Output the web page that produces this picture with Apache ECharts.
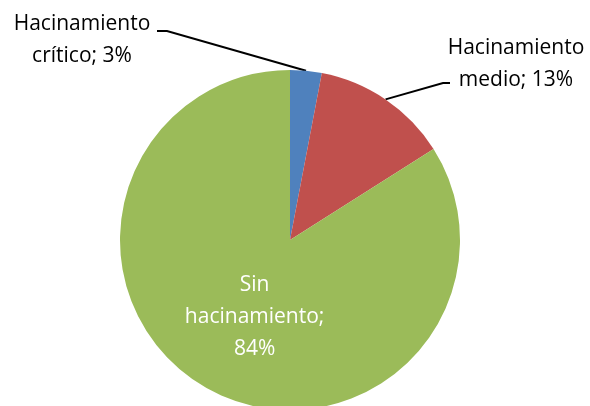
<!DOCTYPE html>
<html>
<head>
<meta charset="utf-8">
<script src="https://cdn.jsdelivr.net/npm/echarts@6/dist/echarts.min.js"></script>
<style>
    html, body { margin: 0; padding: 0; background: #fff; }
    #pieChart { width: 590px; height: 406px; }
</style>
</head>
<body>
<div id="pieChart"></div>
<script>
// datos del gráfico
var categorias = ['Hacinamiento\ncrítico', 'Hacinamiento\nmedio', 'Sin\nhacinamiento'];
var porcentajes = [3, 13, 84];
var colores = ['#4F81BD', '#C0504D', '#9BBB59'];

var chartDom = document.getElementById('pieChart');
var myChart = echarts.init(chartDom);

// posición de las etiquetas externas (texto y codo de la línea guía)
var etiquetas = [
    { x: 82, y: 40, codo: [167, 31], fin: [157, 31] },
    { x: 516, y: 64, codo: [443, 83], fin: [450, 83] },
    null
];

var datos = categorias.map(function (c, i) {
    var item = {
        name: c,
        value: porcentajes[i],
        itemStyle: { color: colores[i] }
    };
    if (i === 2) {
        item.label = {
            position: 'inside',
            color: '#fff',
            offset: [7, 0],
            formatter: function (p) {
                return 'Sin\nhacinamiento;\n' + p.value + '%';
            }
        };
        item.labelLine = { show: false };
    }
    return item;
});

var option = {
    animation: false,
    textStyle: { fontFamily: 'Open Sans' },
    series: [
        {
            type: 'pie',
            center: [290, 240],
            radius: [0, 170],
            startAngle: 90,
            clockwise: true,
            data: datos,
            label: {
                show: true,
                position: 'outside',
                color: '#000',
                fontSize: 21,
                lineHeight: 32,
                fontFamily: 'Open Sans',
                align: 'center',
                formatter: function (p) {
                    return p.name + '; ' + p.value + '%';
                }
            },
            labelLine: {
                show: true,
                length: 10,
                length2: 10,
                lineStyle: { color: '#000', width: 2 }
            },
            labelLayout: function (params) {
                var e = etiquetas[params.dataIndex];
                if (!e) return {};
                var inicio = params.labelLinePoints ? params.labelLinePoints[0] : null;
                var res = {
                    x: e.x,
                    y: e.y,
                    align: 'center',
                    verticalAlign: 'middle'
                };
                if (inicio) {
                    res.labelLinePoints = [inicio, e.codo, e.fin];
                }
                return res;
            }
        }
    ]
};
myChart.setOption(option);
</script>
</body>
</html>
